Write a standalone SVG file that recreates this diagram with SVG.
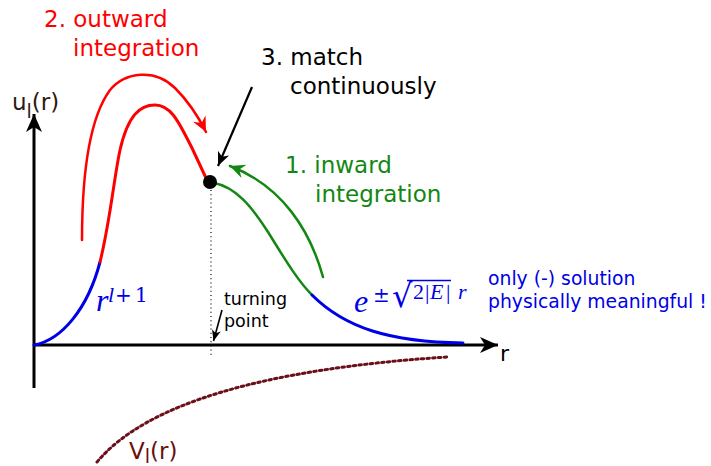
<svg xmlns="http://www.w3.org/2000/svg" width="711" height="466" viewBox="0 0 711 466">
<style>
.sans{font-family:"DejaVu Sans",sans-serif}
.math{font-family:"Liberation Serif","DejaVu Serif",serif}
.up{font-family:"DejaVu Serif",serif;font-style:normal}
.it{font-style:italic}
.red{fill:#ff0000}
.green{fill:#128712}
.blue{fill:#0000e6}
.crv{fill:none;stroke-linecap:round}
</style>
<defs>
<marker id="ahK" viewBox="-14 -7 16 14" markerWidth="16" markerHeight="14" refX="0" refY="0" orient="auto" markerUnits="userSpaceOnUse">
<path d="M0,0 L-14,-6 L-10,0 L-14,6 Z" fill="#000"/>
</marker>
<marker id="ahR" viewBox="-16 -8 18 16" markerWidth="18" markerHeight="16" refX="0" refY="0" orient="auto" markerUnits="userSpaceOnUse">
<path d="M0,0 L-15,-7 L-10,0 L-15,7 Z" fill="#ff0000"/>
</marker>
<marker id="ahG" viewBox="-16 -8 18 16" markerWidth="18" markerHeight="16" refX="0" refY="0" orient="auto" markerUnits="userSpaceOnUse">
<path d="M0,0 L-15,-7 L-10,0 L-15,7 Z" fill="#128712"/>
</marker>
<marker id="ahAx" viewBox="-20 -10 22 20" markerWidth="22" markerHeight="20" refX="0" refY="0" orient="auto" markerUnits="userSpaceOnUse">
<path d="M0,0 L-18,-8 L-13,0 L-18,8 Z" fill="#000"/>
</marker>
<marker id="ahT" viewBox="-12 -6 14 12" markerWidth="14" markerHeight="12" refX="0" refY="0" orient="auto" markerUnits="userSpaceOnUse">
<path d="M0,0 L-11,-4.5 L-8,0 L-11,4.5 Z" fill="#000"/>
</marker>
</defs>

<g id="axes">
<line x1="34" y1="388" x2="34" y2="114" stroke="#000" stroke-width="3" marker-end="url(#ahAx)"/>
<line x1="34" y1="345" x2="498" y2="345" stroke="#000" stroke-width="3" marker-end="url(#ahAx)"/>
<text class="sans" x="500" y="361" font-size="22" fill="#000">r</text>
<text class="sans" x="12" y="110" font-size="23" fill="#2e1a12">u<tspan font-size="19" dy="8">l</tspan><tspan dy="-8">(r)</tspan></text>
</g>

<g id="wavefunction">
<path class="crv" d="M34,345 C62,340 88,308 100,262" stroke="#0000e6" stroke-width="3"/>
<path class="crv" d="M100,262 C110,222 114,178 120,150 C128,115 140,105 155,105 C172,105 180,125 192,148 L206,178" stroke="#ff0000" stroke-width="3"/>
<path class="crv" d="M214,183 C236,187 252,207 268,232 C283,256 297,280 312,295" stroke="#128712" stroke-width="2.5"/>
<path class="crv" d="M312,295 C345,328 390,342 463,343" stroke="#0000e6" stroke-width="3"/>
</g>

<g id="match-point">
<circle cx="210" cy="182" r="7" fill="#000"/>
<line x1="211" y1="190" x2="211" y2="357" stroke="#000" stroke-width="1.2" stroke-dasharray="1 3.2"/>
</g>

<g id="potential">
<path class="crv" d="M97,462 Q170,375 447,357" stroke="#6b0f1a" stroke-width="3" stroke-dasharray="2.5 3.2" stroke-linecap="butt"/>
<text class="sans" x="129" y="459" font-size="23" fill="#6b0f0f">V<tspan font-size="19" dy="4">l</tspan><tspan dy="-4">(r)</tspan></text>
</g>

<g id="connectors">
<path class="crv" d="M82,240 C82,180 88,120 110,90 C125,72 155,68 175,88 C190,103 199,118 206,132" stroke="#ff0000" stroke-width="2.5" marker-end="url(#ahR)"/>
<path class="crv" d="M323,277 C310,230 282,186 230,166" stroke="#128712" stroke-width="2.5" marker-end="url(#ahG)"/>
<line x1="252" y1="87" x2="218" y2="166" stroke="#000" stroke-width="2.2" marker-end="url(#ahK)"/>
<line x1="222" y1="310" x2="213.5" y2="341" stroke="#000" stroke-width="1.6" marker-end="url(#ahT)"/>
</g>

<g id="label-outward">
<text class="sans red" x="44" y="27" font-size="23">2. outward</text>
<text class="sans red" x="73" y="56" font-size="23">integration</text>
</g>
<g id="label-match">
<text class="sans" x="261" y="65" font-size="23" fill="#000">3. match</text>
<text class="sans" x="290" y="94" font-size="23" fill="#000">continuously</text>
</g>
<g id="label-inward">
<text class="sans green" x="285" y="173" font-size="23">1. inward</text>
<text class="sans green" x="315" y="202" font-size="23">integration</text>
</g>
<g id="label-turning">
<text class="sans" x="224" y="305" font-size="17.5" fill="#000">turning</text>
<text class="sans" x="224" y="327" font-size="17.5" fill="#000">point</text>
</g>
<g id="label-solution">
<text class="sans blue" x="488" y="285" font-size="18.8">only (-) solution</text>
<text class="sans blue" x="488" y="308" font-size="18.8">physically meaningful !</text>
</g>
<g id="label-rl1">
<text class="math blue" font-size="32"><tspan class="it" x="96" y="311">r</tspan><tspan class="it" font-size="22" x="108" y="302">l</tspan><tspan class="up" font-size="20" x="115" y="302">+</tspan><tspan class="up" font-size="20" x="135" y="302">1</tspan></text>
</g>
<g id="label-exp">
<text class="math blue" font-size="32"><tspan class="it" x="354" y="312">e</tspan><tspan class="up" font-size="20" x="373" y="302">±</tspan><tspan font-size="22" x="413" y="299">2</tspan><tspan font-size="22" x="425" y="299">|</tspan><tspan class="it" font-size="22" x="430" y="299">E</tspan><tspan font-size="22" x="446" y="299">|</tspan><tspan class="it" font-size="22" x="458" y="299">r</tspan></text>
<text class="sans blue" x="392" y="307" font-size="32">√</text>
<line x1="407" y1="280.5" x2="451" y2="280.5" stroke="#0000e6" stroke-width="1.4"/>
</g>
</svg>
